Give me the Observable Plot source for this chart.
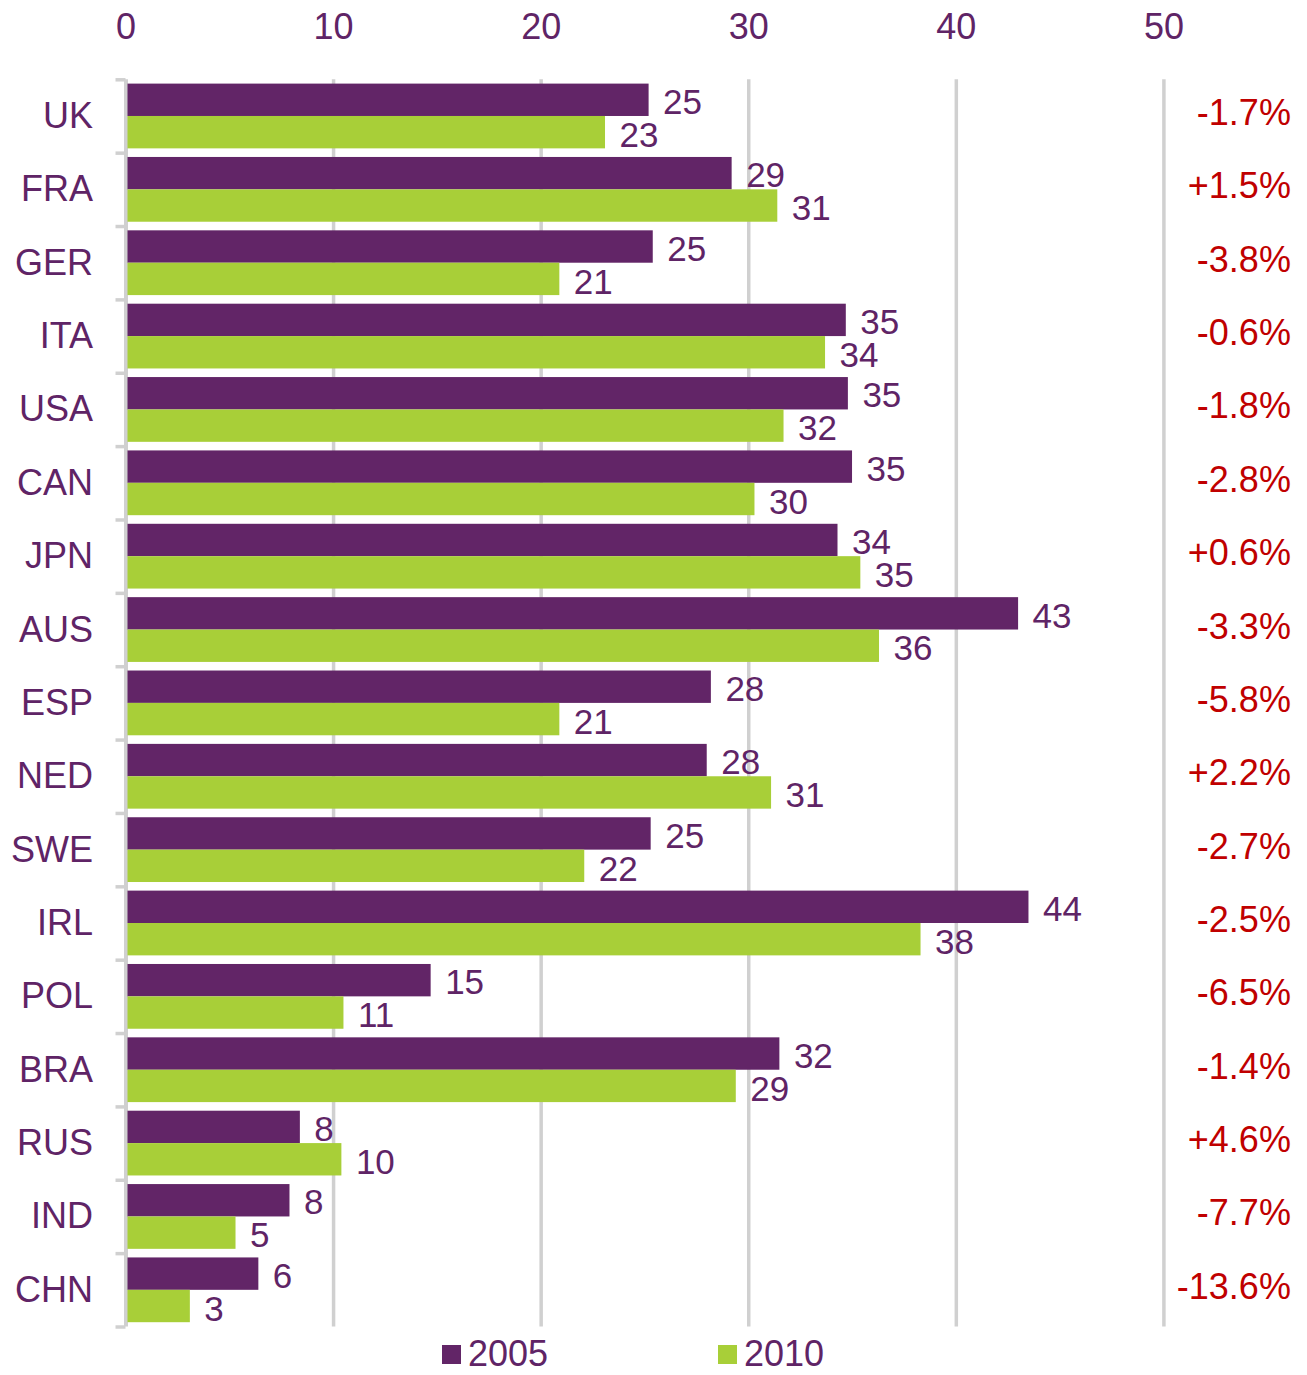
<!DOCTYPE html>
<html>
<head>
<meta charset="utf-8">
<script src="https://cdn.jsdelivr.net/npm/d3@7"></script>
<script src="https://cdn.jsdelivr.net/npm/@observablehq/plot@0.6"></script>
<style>
  html, body { margin: 0; padding: 0; background: #ffffff; }
  body { width: 1307px; font-family: "Liberation Sans", Arial, sans-serif; }
  #legend { position: relative; height: 37px; }
  .item { position: absolute; top: -4.7px; display: flex; align-items: center; font-size: 36px; color: #5f2466; }
  .sw { width: 19px; height: 19px; margin-right: 7px; }
</style>
</head>
<body>
<div id="chart"></div>
<div id="legend"></div>
<script>
// ---- data ----
const countries = ["UK","FRA","GER","ITA","USA","CAN","JPN","AUS","ESP","NED","SWE","IRL","POL","BRA","RUS","IND","CHN"];
const values2005 = [25.2, 29.2, 25.4, 34.7, 34.8, 35.0, 34.3, 43.0, 28.2, 28.0, 25.3, 43.5, 14.7, 31.5, 8.4, 7.9, 6.4];
const values2010 = [23.1, 31.4, 20.9, 33.7, 31.7, 30.3, 35.4, 36.3, 20.9, 31.1, 22.1, 38.3, 10.5, 29.4, 10.4, 5.3, 3.1];
const changes = ["-1.7%","+1.5%","-3.8%","-0.6%","-1.8%","-2.8%","+0.6%","-3.3%","-5.8%","+2.2%","-2.7%","-2.5%","-6.5%","-1.4%","+4.6%","-7.7%","-13.6%"];
const xTicks = [0, 10, 20, 30, 40, 50];
const seriesNames = ["2005", "2010"];

// ---- style ----
const purple = "#622567";
const textPurple = "#5f2466";
const green = "#a8cf38";
const red = "#c00000";
const grid = "#d0d0d0";
const font = "'Liberation Sans', Arial, sans-serif";

const W = 1307, H = 1338;
const mt = 79.3, mb = H - 1326.5, ml = 125.5, mr = W - 1163.4;
const bw = (H - mt - mb) / countries.length;
const g = 4.3;
const h = (bw - 2 * g) / 2;

const rows = countries.map((c, i) => ({country: c, v2005: values2005[i], v2010: values2010[i], change: changes[i]}));

const chart = Plot.plot({
  width: W,
  height: H,
  marginTop: mt,
  marginBottom: mb,
  marginLeft: ml,
  marginRight: mr,
  style: {fontFamily: font, fontSize: "36px", color: textPurple, background: "#ffffff"},
  x: {domain: [0, 50]},
  y: {domain: countries, padding: 0, round: false},
  marks: [
    Plot.ruleX(xTicks.slice(1), {stroke: grid, strokeWidth: 3.5}),
    Plot.ruleX([0], {stroke: grid, strokeWidth: 4}),
    Plot.ruleY(countries, {y: d => d, x1: 0, x2: 0, dy: -bw / 2, insetLeft: -10, stroke: grid, strokeWidth: 3.5}),
    Plot.ruleY([countries[countries.length - 1]], {y: d => d, x1: 0, x2: 0, dy: bw / 2, insetLeft: -10, stroke: grid, strokeWidth: 3.5}),
    Plot.barX(rows, {y: "country", x: "v2005", fill: purple, insetTop: g, insetBottom: g + h, insetLeft: 2}),
    Plot.barX(rows, {y: "country", x: "v2010", fill: green, insetTop: g + h, insetBottom: g, insetLeft: 2}),
    Plot.text(rows, {y: "country", x: "v2005", text: d => String(Math.round(d.v2005)), textAnchor: "start", dx: 14, dy: -h / 2 + 2.5, fill: textPurple, fontSize: 35}),
    Plot.text(rows, {y: "country", x: "v2010", text: d => String(Math.round(d.v2010)), textAnchor: "start", dx: 14, dy: h / 2 + 3, fill: textPurple, fontSize: 35}),
    Plot.text(rows, {y: "country", text: "change", frameAnchor: "right", textAnchor: "end", dx: 127, dy: -3, fill: red, fontSize: 36}),
    Plot.axisX(xTicks, {anchor: "top", tickSize: 0, tickPadding: 41, fontSize: 36, fill: textPurple, label: null}),
    Plot.axisY({anchor: "left", tickSize: 0, tickPadding: 33, fontSize: 36, fill: textPurple, label: null})
  ]
});
document.getElementById("chart").appendChild(chart);

// ---- legend ----
const legend = document.getElementById("legend");
const legendColors = [purple, green];
const legendLeft = [442, 718];
seriesNames.forEach((name, i) => {
  const item = document.createElement("div");
  item.className = "item";
  item.style.left = legendLeft[i] + "px";
  const sw = document.createElement("span");
  sw.className = "sw";
  sw.style.background = legendColors[i];
  const t = document.createElement("span");
  t.textContent = name;
  item.appendChild(sw);
  item.appendChild(t);
  legend.appendChild(item);
});
</script>
</body>
</html>
